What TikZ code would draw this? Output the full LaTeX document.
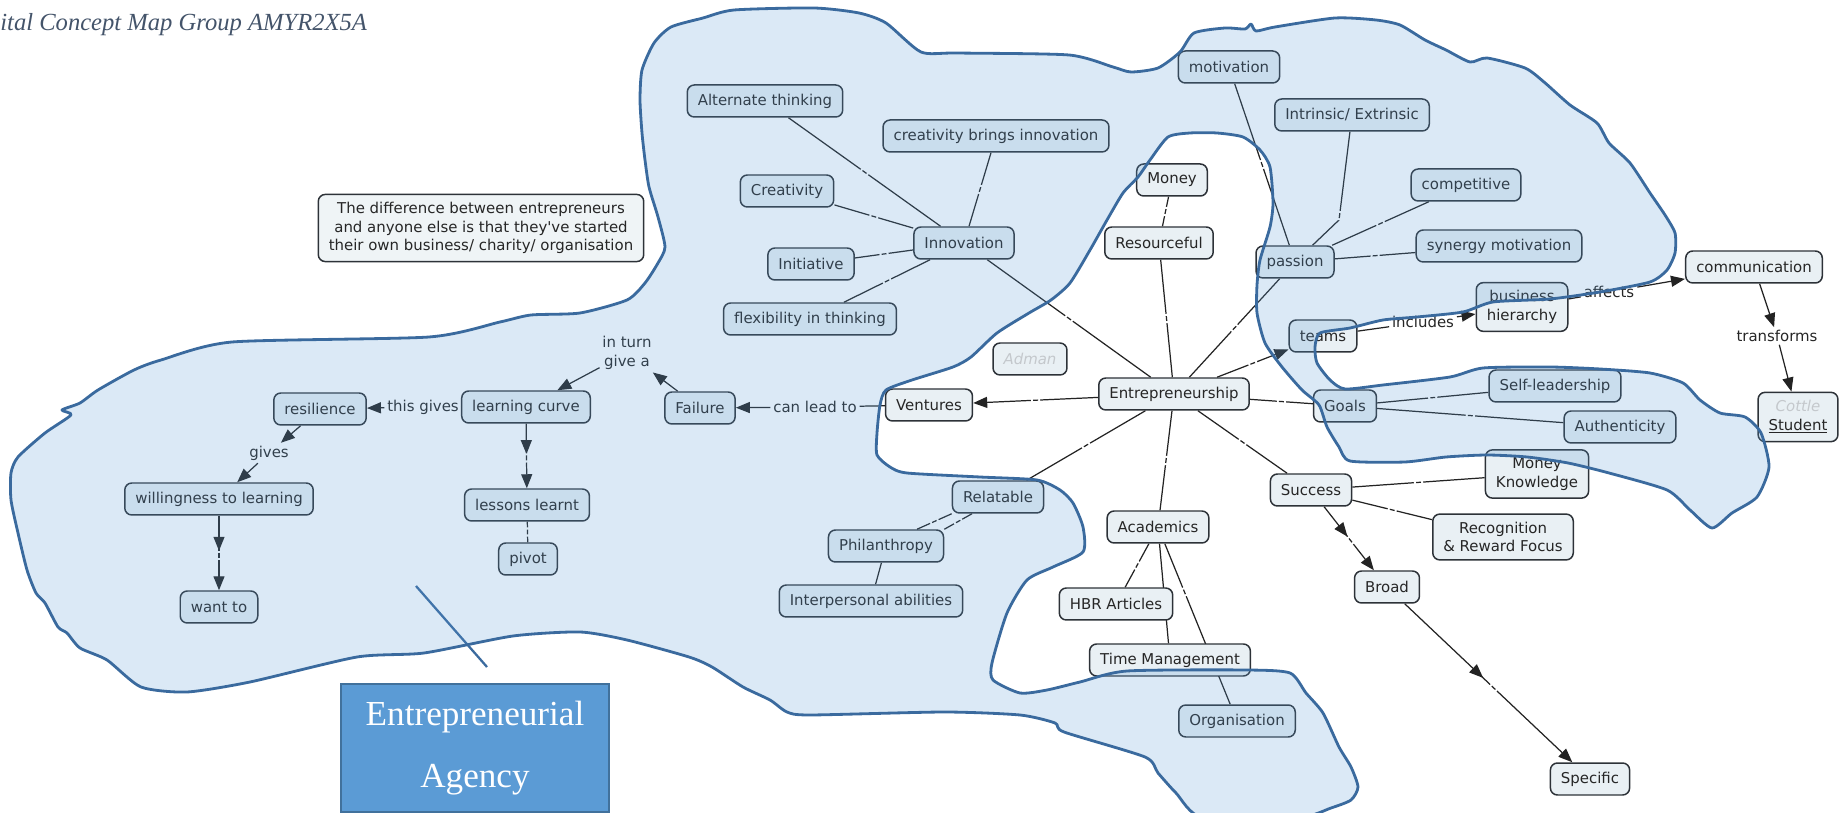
\documentclass[tikz,border=0pt]{standalone}
\usepackage{fontspec}
\usepackage{xcolor}
\usepackage{tikz}
\usetikzlibrary{arrows.meta, decorations.markings, positioning}

\newfontfamily\mapfont{DejaVu Sans}
\newfontfamily\capfont{Liberation Serif}
\newcommand{\mapsize}{\mapfont\fontsize{8.5}{10.5}\selectfont}
\newcommand{\titlesize}{\capfont\itshape\fontsize{14}{16}\selectfont}
\newcommand{\agencysize}{\capfont\fontsize{20}{35}\selectfont}
\newcommand{\gapdash}{\rule{2.8pt}{0.7pt}}

\definecolor{nodefill}{RGB}{233,240,244}
\definecolor{notefill}{RGB}{239,244,246}
\definecolor{nodeline}{RGB}{45,50,56}
\definecolor{linkgray}{RGB}{35,35,35}
\definecolor{blobline}{RGB}{58,106,158}
\definecolor{blobfill}{RGB}{91,155,213}
\definecolor{agencyline}{RGB}{65,113,156}
\definecolor{titlegray}{RGB}{68,84,106}
\definecolor{ghost}{RGB}{196,200,204}

\pgfdeclarelayer{links}
\pgfdeclarelayer{overlay}
\pgfsetlayers{links,main,overlay}

\tikzstyle{concept} = [rectangle, rounded corners=4pt, draw=nodeline, line width=0.85pt, fill=nodefill, text=black!85, font=\mapsize, inner xsep=6pt, inner ysep=4.5pt, minimum height=0.64cm, align=center]
\tikzstyle{phrase} = [font=\mapsize, text=black!85, inner sep=1.5pt, align=center]
\tikzstyle{link} = [draw=linkgray, line width=0.7pt]
\tikzstyle{arrow} = [link, -{Triangle[length=0.28cm, width=0.22cm]}]
\tikzstyle{midarrow} = [postaction={decorate}, decoration={markings, mark=at position 0.47 with {\arrow{Triangle[length=0.28cm, width=0.22cm]}}}]
\tikzstyle{gapmark} = [sloped, fill=white, inner xsep=1.2pt, inner ysep=0.5pt, text=linkgray]
\tikzstyle{blob} = [draw=blobline, line width=1.6pt, fill=blobfill, fill opacity=0.22, line join=round]
\tikzstyle{agency} = [rectangle, draw=agencyline, line width=1.2pt, fill=blobfill, text=white, font=\agencysize, minimum width=5.36cm, minimum height=2.56cm, align=center]
\tikzstyle{pointer} = [draw=blobline, line width=1.3pt]

\begin{document}
\begin{tikzpicture}[x=0.02cm, y=-0.02cm]
	\useasboundingbox (0,0) rectangle (1842,813);

	% Title and note
	\node (maptitle) [anchor=base west, inner sep=0pt, font=\titlesize, text=titlegray] at (0,31) {ital Concept Map Group AMYR2X5A};
	\node (note) [concept, fill=notefill] at (481,228) {The difference between entrepreneurs\\and anyone else is that they\textquotesingle ve started\\their own business/ charity/ organisation};

	% Innovation cluster
	\node (altthink) [concept] at (765,101) {Alternate thinking};
	\node (cbi) [concept] at (996,136) {creativity brings innovation};
	\node (creat) [concept] at (787,191) {Creativity};
	\node (innov) [concept] at (964,243) {Innovation};
	\node (initi) [concept] at (811,264) {Initiative};
	\node (flex) [concept] at (810,319) {flexibility in thinking};

	% Centre of the map
	\node (entre) [concept] at (1174,394) {Entrepreneurship};
	\node (money) [concept] at (1172,180) {Money};
	\node (resour) [concept] at (1159,243) {Resourceful};
	\node (adman) [concept, text=ghost, font=\mapsize\itshape] at (1030,359) {Adman};
	\node (ventures) [concept] at (929,405) {Ventures};
	\node (relat) [concept] at (998,497) {Relatable};
	\node (phil) [concept] at (886,546) {Philanthropy};
	\node (interp) [concept] at (871,601) {Interpersonal abilities};
	\node (acad) [concept] at (1158,527) {Academics};
	\node (hbr) [concept] at (1116,604) {HBR Articles};
	\node (timem) [concept] at (1170,660) {Time Management};
	\node (organ) [concept] at (1237,721) {Organisation};

	% Motivation cluster
	\node (motiv) [concept] at (1229,67) {motivation};
	\node (intr) [concept] at (1352,115) {Intrinsic/ Extrinsic};
	\node (compet) [concept] at (1466,185) {competitive};
	\node (synergy) [concept] at (1499,246) {synergy motivation};
	\node (passion) [concept] at (1295,262) {passion};
	\coordinate (intrbend) at (1339,220);

	% Teams through to student
	\node (teams) [concept] at (1323,336) {teams};
	\node (includes) [phrase] at (1423,322) {includes};
	\node (bizhier) [concept] at (1522,307) {business\\hierarchy};
	\node (affects) [phrase] at (1609,292) {affects};
	\node (comm) [concept] at (1754,267) {communication};
	\node (transf) [phrase] at (1777,336) {transforms};
	\node (student) [concept] at (1798,417) {\textcolor{ghost}{\itshape Cottle}\\\underline{Student}};

	% Goals and success
	\node (goals) [concept] at (1345,406) {Goals};
	\node (selflead) [concept] at (1555,386) {Self-leadership};
	\node (authen) [concept] at (1620,427) {Authenticity};
	\node (success) [concept] at (1311,490) {Success};
	\node (monknow) [concept] at (1537,474) {Money\\Knowledge};
	\node (recog) [concept] at (1503,537) {Recognition\\\& Reward Focus};
	\node (broad) [concept] at (1387,587) {Broad};
	\node (specific) [concept] at (1590,779) {Specific};

	% Failure and learning
	\node (canlead) [phrase] at (815,407) {can lead to};
	\node (failure) [concept] at (700,408) {Failure};
	\node (turngive) [phrase] at (627,353) {in turn\\give a};
	\node (lcurve) [concept] at (526,407) {learning curve};
	\node (thisgives) [phrase] at (423,407) {this gives};
	\node (resil) [concept] at (320,409) {resilience};
	\node (gives) [phrase] at (269,453) {gives};
	\node (willing) [concept] at (219,499) {willingness to learning};
	\node (wantto) [concept] at (219,607) {want to};
	\node (lessons) [concept] at (527,505) {lessons learnt};
	\node (pivot) [concept] at (528,559) {pivot};

	% Agency caption
	\node (agency) [agency] at (475,748) {Entrepreneurial\\Agency};
	\coordinate (agfoot) at (487,667);
	\coordinate (agtip) at (416,586);
	\draw [pointer] (agfoot) -- (agtip);

	\begin{pgfonlayer}{links}
		% Innovation links
		\draw [link] (altthink) -- node[gapmark]{\gapdash} (innov);
		\draw [link] (cbi) -- node[gapmark]{\gapdash} (innov);
		\draw [link] (creat) -- node[gapmark]{\gapdash} (innov);
		\draw [link] (initi) -- node[gapmark]{\gapdash} (innov);
		\draw [link] (flex) -- node[gapmark]{\gapdash} (innov);
		\draw [link] (innov) -- node[gapmark]{\gapdash} (entre);

		% Links around Entrepreneurship
		\draw [link] (money) -- node[gapmark]{\gapdash} (resour);
		\draw [link] (resour) -- node[gapmark]{\gapdash} (entre);
		\draw [link] (motiv) -- node[gapmark]{\gapdash} (passion);
		\draw [link] (intr) -- node[gapmark, pos=0.95]{\gapdash} (intrbend) -- (passion);
		\draw [link] (compet) -- node[gapmark]{\gapdash} (passion);
		\draw [link] (synergy) -- node[gapmark]{\gapdash} (passion);
		\draw [link] (passion) -- node[gapmark]{\gapdash} (entre);
		\draw [arrow] (entre) -- node[gapmark]{\gapdash} (teams);
		\draw [link] (entre) -- node[gapmark]{\gapdash} (goals);
		\draw [link] (entre) -- node[gapmark]{\gapdash} (success);
		\draw [link] (entre) -- node[gapmark]{\gapdash} (acad);
		\draw [link] (entre) -- node[gapmark]{\gapdash} (relat);
		\draw [arrow] (entre) -- node[gapmark]{\gapdash} (ventures);

		% Relatable and Academics
		\draw [link] (relat.south west) -- node[gapmark]{\gapdash} ([xshift=0.62cm]phil.north);
		\draw [link] ([xshift=-0.52cm]relat.south) -- node[gapmark]{\gapdash} (phil.north east);
		\draw [link] (phil) -- (interp);
		\draw [link] (acad) -- node[gapmark]{\gapdash} (hbr);
		\draw [link] (acad) -- (timem);
		\draw [link] (acad) -- node[gapmark, pos=0.3]{\gapdash} (organ);

		% Goals and success
		\draw [link] (goals) -- node[gapmark]{\gapdash} (selflead);
		\draw [link] (goals) -- node[gapmark]{\gapdash} (authen);
		\draw [link] (success) -- node[gapmark]{\gapdash} (monknow);
		\draw [link] (success) -- node[gapmark]{\gapdash} (recog);
		\draw [arrow, midarrow] (success) -- node[gapmark, pos=0.53]{\gapdash} (broad);
		\draw [arrow, midarrow] (broad) -- node[gapmark, pos=0.53]{\gapdash} (specific);

		% Teams to student
		\draw [link] (teams) -- (includes);
		\draw [arrow] (includes) -- (bizhier);
		\draw [link] (bizhier) -- (affects);
		\draw [arrow] (affects) -- (comm);
		\draw [arrow] (comm) -- (transf);
		\draw [arrow] (transf) -- (student);

		% Failure and learning
		\draw [link] (ventures) -- (canlead);
		\draw [arrow] (canlead) -- (failure);
		\draw [arrow] (failure) -- (turngive);
		\draw [arrow] (turngive) -- (lcurve);
		\draw [link] (lcurve) -- (thisgives);
		\draw [arrow] (thisgives) -- (resil);
		\draw [arrow] (resil) -- (gives);
		\draw [arrow] (gives) -- (willing);
		\draw [arrow, midarrow] (willing) -- node[gapmark, pos=0.53]{\gapdash} (wantto);
		\draw [arrow, midarrow] (lcurve) -- node[gapmark, pos=0.53]{\gapdash} (lessons);
		\draw [link] (lessons) -- node[gapmark]{\gapdash} (pivot);
	\end{pgfonlayer}

	% Freehand region laid over the map
	\begin{pgfonlayer}{overlay}
		\draw [blob] plot[smooth cycle, tension=0.4] coordinates {
			(1298,818) (1331,808) (1351,800) (1358,787) (1351,767) (1339,747) (1323,713) (1306,693) (1290,673)
			(1247,670) (1127,671) (1080,682) (1047,690) (1020,693) (993,680) (992,663) (1007,613) (1027,580)
			(1053,567) (1083,552) (1083,527) (1073,503) (1060,490) (1037,480) (980,477) (907,473) (890,467)
			(877,455) (877,433) (880,405) (886,390) (912,380) (953,367) (971,357) (997,333) (1029,313)
			(1051,300) (1070,283) (1090,250) (1107,220) (1123,193) (1138,177) (1150,160) (1168,137) (1190,133)
			(1217,133) (1243,137) (1260,150) (1270,167) (1273,203) (1270,227) (1260,260) (1257,285) (1257,313)
			(1265,343) (1282,367) (1302,390) (1319,405) (1327,427) (1339,447) (1350,461) (1405,462) (1446,457)
			(1487,455) (1527,457) (1568,463) (1609,473) (1667,490) (1690,510) (1712,528) (1732,513) (1757,497)
			(1769,467) (1761,433) (1745,417) (1720,413) (1700,400) (1683,383) (1650,373) (1600,369) (1550,367)
			(1483,368) (1450,377) (1383,385) (1345,389) (1330,380) (1317,363) (1315,347) (1320,333) (1350,328)
			(1383,320) (1417,317) (1463,312) (1493,302) (1550,299) (1600,292) (1650,282) (1667,270) (1675,253)
			(1675,233) (1665,215) (1650,193) (1630,163) (1609,143) (1597,123) (1570,105) (1544,82) (1525,68)
			(1487,58) (1470,62) (1446,50) (1425,40) (1400,25) (1376,20) (1335,18) (1275,27) (1256,31)
			(1251,24) (1245,29) (1225,28) (1194,33) (1180,52) (1158,68) (1131,72) (1113,67) (1069,55)
			(957,53) (921,52) (886,23) (859,13) (814,8) (734,10) (703,18) (671,27) (654,43) (642,70)
			(640,100) (642,133) (645,160) (649,187) (658,217) (665,247) (658,263) (645,283) (627,300)
			(580,313) (531,315) (500,322) (429,337) (232,342) (161,360) (134,370) (98,390) (80,403)
			(62,410) (71,415) (45,433) (18,457) (11,473) (11,500) (18,533) (27,570) (36,593) (45,603)
			(58,627) (67,633) (80,648) (107,660) (141,687) (187,692) (250,682) (357,657) (424,653)
			(513,636) (580,632) (627,640) (689,657) (712,667) (743,687) (770,700) (787,712) (810,715)
			(944,712) (1020,715) (1055,723) (1064,732) (1145,757) (1158,773) (1176,793) (1203,818)};
	\end{pgfonlayer}

\end{tikzpicture}
\end{document}
